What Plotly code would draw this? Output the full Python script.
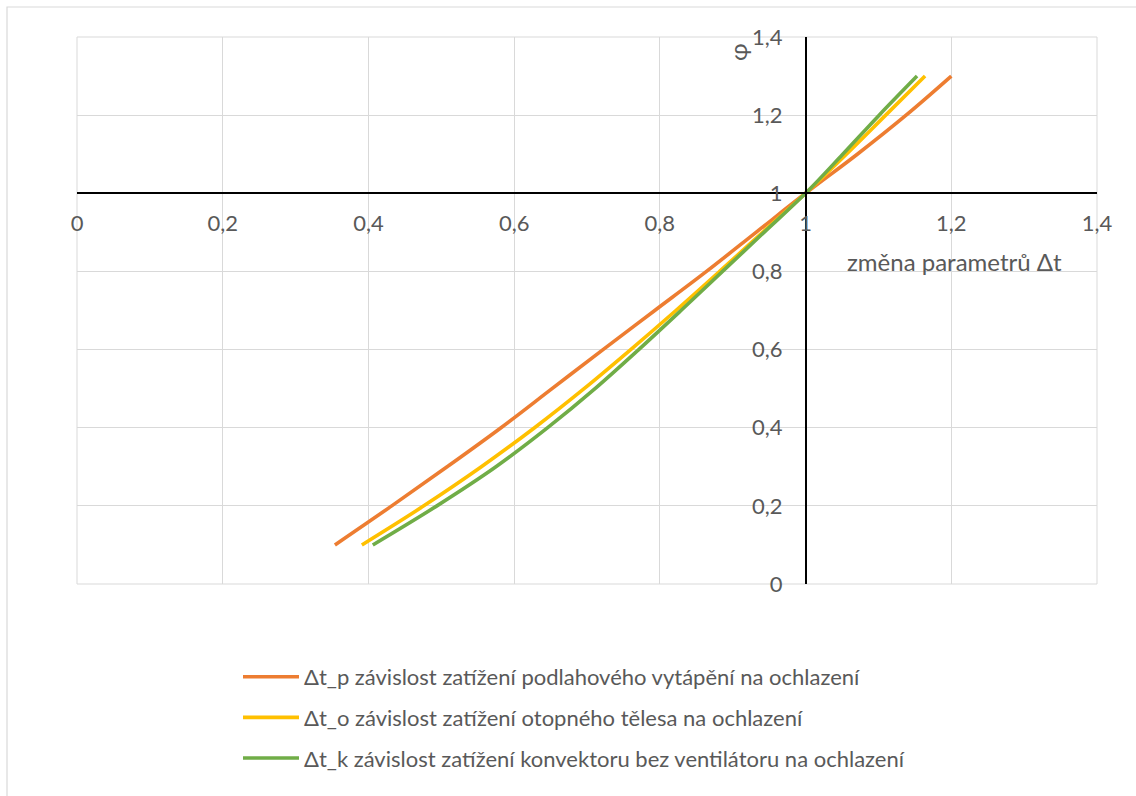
import plotly.graph_objects as go

# Relative load phi and the corresponding change of the temperature difference
phi = [0.1, 0.2, 0.3, 0.4, 0.5, 0.6, 0.7, 0.8, 0.9, 1.0, 1.1, 1.2, 1.3]
dt_p = [0.354, 0.432, 0.508, 0.582, 0.652, 0.722, 0.793, 0.864, 0.932, 1.0, 1.071, 1.138, 1.2]
dt_o = [0.391, 0.476, 0.555, 0.628, 0.696, 0.760, 0.822, 0.882, 0.941, 1.0, 1.056, 1.110, 1.164]
dt_k = [0.406, 0.494, 0.575, 0.646, 0.711, 0.771, 0.829, 0.886, 0.943, 1.0, 1.051, 1.101, 1.153]

series_names = [
    "Δt_p závislost zatížení podlahového vytápění na ochlazení",
    "Δt_o závislost zatížení otopného tělesa na ochlazení",
    "Δt_k závislost zatížení konvektoru bez ventilátoru na ochlazení",
]
series_colors = ["#ED7D31", "#FFC000", "#70AD47"]

tick_vals = [0, 0.2, 0.4, 0.6, 0.8, 1.0, 1.2, 1.4]

FONT = "Lato"
TXT = "#595959"

fig = go.Figure()
for i, (xs, name, col) in enumerate(zip([dt_p, dt_o, dt_k], series_names, series_colors)):
    fig.add_trace(go.Scatter(
        x=xs, y=phi, mode="lines", name=name,
        line=dict(color=col, width=3.6, shape="spline", smoothing=1.0),
        legendgroup=f"g{i}",
    ))

W, H = 1136, 796
L, R, T, B = 77, 1097, 37, 584
pw, ph = R - L, B - T


def px_x(p):
    return (p - L) / pw


def px_y(p):
    return (B - p) / ph


fig.update_layout(
    width=W, height=H,
    margin=dict(l=L, r=W - R, t=T, b=H - B),
    paper_bgcolor="white", plot_bgcolor="white",
    separators=", ",
    font=dict(family=FONT, size=22, color=TXT),
    showlegend=True,
    legend=dict(
        x=px_x(238), y=px_y(656), xanchor="left", yanchor="top",
        traceorder="grouped", tracegroupgap=9, itemwidth=56,
        font=dict(family=FONT, size=22, color=TXT),
        bgcolor="rgba(0,0,0,0)",
    ),
    xaxis=dict(
        range=[0, 1.4], tickvals=tick_vals, showgrid=True,
        gridcolor="#D9D9D9", gridwidth=1, zeroline=False,
        showline=True, linecolor="black", linewidth=1.5,
        anchor="free", position=1 / 1.4, ticks="",
        ticklabelstandoff=11,
        tickfont=dict(family=FONT, size=22, color=TXT),
    ),
    yaxis=dict(
        range=[0, 1.4], tickvals=tick_vals, showgrid=True,
        gridcolor="#D9D9D9", gridwidth=1, zeroline=False,
        showline=True, linecolor="black", linewidth=1.5,
        anchor="free", position=1 / 1.4, ticks="",
        ticklabelstandoff=18,
        tickfont=dict(family=FONT, size=22, color=TXT),
    ),
    shapes=[
        # plot-area frame
        dict(type="rect", xref="paper", yref="paper", x0=0, x1=1, y0=0, y1=1,
             line=dict(color="#D9D9D9", width=1), layer="below"),
        # chart-area frame
        dict(type="rect", xref="paper", yref="paper",
             x0=px_x(7), x1=px_x(1180), y0=px_y(840), y1=px_y(7),
             line=dict(color="#D9D9D9", width=1.2), layer="below"),
    ],
    annotations=[
        dict(text="φ", xref="paper", yref="paper", x=px_x(738), y=px_y(52),
             xanchor="center", yanchor="middle", textangle=-90, showarrow=False,
             font=dict(family=FONT, size=24, color=TXT)),
        dict(text="změna parametrů Δt", xref="paper", yref="paper",
             x=px_x(845), y=px_y(261), xanchor="left", yanchor="middle",
             showarrow=False, font=dict(family=FONT, size=24, color=TXT)),
    ],
)

fig.write_html("out.html")
